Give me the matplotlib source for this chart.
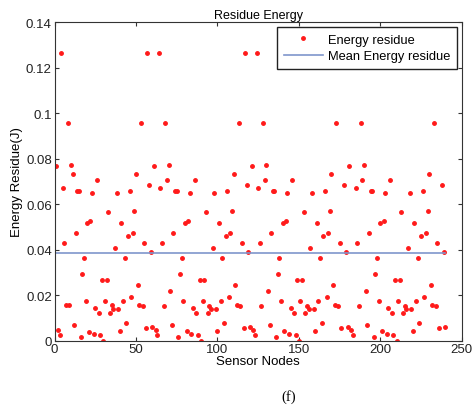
import numpy as np
import matplotlib
matplotlib.use('Agg')
from matplotlib import pyplot as plt
from matplotlib.ticker import FixedLocator, FixedFormatter

# residual energy of each sensor node (nodes 1..240)
block1 = [0.0768, 0.0045, 0.0023, 0.1264, 0.0672, 0.0431, 0.0155, 0.0956, 0.0158, 0.0771,
          0.0732, 0.0070, 0.0471, 0.0657, 0.0657, 0.0016, 0.0293, 0.0364, 0.0173, 0.0515,
          0.0038, 0.0525, 0.0651, 0.0031, 0.0141, 0.0705, 0.0120, 0.0023, 0.0268, 0.0000,
          0.0173, 0.0265, 0.0566, 0.0119, 0.0155, 0.0138, 0.0406, 0.0650, 0.0138, 0.0041,
          0.0515, 0.0176, 0.0364, 0.0078, 0.0460, 0.0657, 0.0190, 0.0471, 0.0569, 0.0732,
          0.0243, 0.0158, 0.0956, 0.0154, 0.0431, 0.0056, 0.1264, 0.0686, 0.0389, 0.0059]
block2 = [0.0767, 0.0045, 0.0023, 0.1264, 0.0672, 0.0431, 0.0154, 0.0956, 0.0708, 0.0771,
          0.0218, 0.0070, 0.0474, 0.0657, 0.0657, 0.0016, 0.0293, 0.0364, 0.0173, 0.0515,
          0.0041, 0.0525, 0.0651, 0.0031, 0.0141, 0.0705, 0.0119, 0.0023, 0.0268, 0.0000,
          0.0173, 0.0265, 0.0566, 0.0119, 0.0154, 0.0138, 0.0406, 0.0651, 0.0138, 0.0041,
          0.0515, 0.0176, 0.0364, 0.0078, 0.0460, 0.0657, 0.0190, 0.0471, 0.0569, 0.0732,
          0.0243, 0.0158, 0.0956, 0.0154, 0.0431, 0.0056, 0.1264, 0.0686, 0.0389, 0.0059]
block3 = [0.0767, 0.0045, 0.0023, 0.1264, 0.0672, 0.0431, 0.0154, 0.0956, 0.0708, 0.0771,
          0.0218, 0.0070, 0.0474, 0.0657, 0.0657, 0.0016, 0.0293, 0.0364, 0.0173, 0.0515,
          0.0041, 0.0525, 0.0650, 0.0031, 0.0141, 0.0705, 0.0119, 0.0023, 0.0268, 0.0000,
          0.0173, 0.0265, 0.0566, 0.0119, 0.0154, 0.0138, 0.0406, 0.0651, 0.0138, 0.0041,
          0.0515, 0.0176, 0.0364, 0.0078, 0.0460, 0.0657, 0.0190, 0.0471, 0.0569, 0.0732,
          0.0243, 0.0158, 0.0956, 0.0154, 0.0431, 0.0056, 0.1264, 0.0686, 0.0389, 0.0059]
block4 = [0.0767, 0.0045, 0.0023, 0.1264, 0.0672, 0.0431, 0.0154, 0.0956, 0.0708, 0.0771,
          0.0218, 0.0070, 0.0474, 0.0657, 0.0657, 0.0016, 0.0293, 0.0364, 0.0173, 0.0515,
          0.0041, 0.0525, 0.0651, 0.0031, 0.0141, 0.0705, 0.0119, 0.0023, 0.0268, 0.0000,
          0.0173, 0.0265, 0.0566, 0.0119, 0.0154, 0.0138, 0.0406, 0.0651, 0.0138, 0.0041,
          0.0515, 0.0176, 0.0364, 0.0078, 0.0460, 0.0657, 0.0190, 0.0471, 0.0569, 0.0732,
          0.0243, 0.0158, 0.0956, 0.0154, 0.0431, 0.0056, 0.1264, 0.0686, 0.0389, 0.0059]

energy = np.array(block1 + block2 + block3 + block4)
nodes = np.arange(1, len(energy) + 1)
mean_energy = energy.mean()

xticks = [0, 50, 100, 150, 200, 250]
yticks = [0, 0.02, 0.04, 0.06, 0.08, 0.1, 0.12, 0.14]
ytick_labels = ['0', '0.02', '0.04', '0.06', '0.08', '0.1', '0.12', '0.14']

plt.rcParams['font.family'] = ['Liberation Sans', 'DejaVu Sans']
plt.rcParams['font.size'] = 9

fig = plt.figure(figsize=(4.75, 4.14), dpi=100)
ax = fig.add_axes([0.115, 0.175, 0.857, 0.769])

ax.plot(nodes, energy, linestyle='', marker='.', markersize=5, color='#ff1a1a',
        label='Energy residue')
ax.plot([nodes[0], nodes[-1]], [mean_energy, mean_energy], color='#7f96cc', linewidth=1.2,
        label='Mean Energy residue')

ax.set_xlim(0, 250)
ax.set_ylim(0, 0.14)
ax.xaxis.set_major_locator(FixedLocator(xticks))
ax.yaxis.set_major_locator(FixedLocator(yticks))
ax.yaxis.set_major_formatter(FixedFormatter(ytick_labels))
ax.tick_params(direction='in', top=True, right=True, length=3, colors='#333333',
               labelcolor='#222222', labelsize=9.5, pad=2)
for s in ax.spines.values():
    s.set_color('#333333')
    s.set_linewidth(0.8)

ax.set_title('Residue Energy', fontsize=9, pad=3)
ax.set_xlabel('Sensor Nodes', fontsize=9.5, labelpad=0)
ax.set_ylabel('Energy Residue(J)', fontsize=9.5, labelpad=2)

leg = ax.legend(loc='upper right', fontsize=9.3, frameon=True, fancybox=False,
                borderaxespad=0.4, handlelength=3.0, borderpad=0.5, labelspacing=0.35,
                handletextpad=0.4)
leg.get_frame().set_edgecolor('#222222')
leg.get_frame().set_linewidth(1.0)
leg.get_frame().set_alpha(1)

fig.text(0.608, 0.04, '(f)', ha='center', va='center', fontsize=10.5,
         family=['Liberation Serif', 'DejaVu Serif'])

fig.savefig('out.png', dpi=100)
